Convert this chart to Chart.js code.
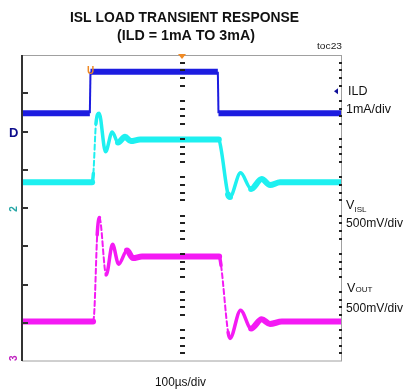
<!DOCTYPE html>
<html lang="en">
<head>
    <meta charset="UTF-8">
    <title>ISL Load Transient Response</title>
    <script src="https://cdn.jsdelivr.net/npm/chart.js"></script>
    <style>
        html, body { margin: 0; padding: 0; background: #fff; }
        #wrap { width: 403px; height: 391px; }
    </style>
</head>
<body>
    <div id="wrap"><canvas id="scope" width="403" height="391"></canvas></div>

    <script>
        // time axis in µs (100µs/div, 10 div), vertical axis in divisions (8 div)
        const xDivs = 10;
        const yDivs = 8;
        const timeSpan = 1000;

        // ILD (1mA/div)
        const ildTime  = [0, 212, 214, 612, 614, 1000];
        const ildLevel = [6.48, 6.48, 7.56, 7.56, 6.48, 6.48];

        // VISL (500mV/div)
        const vislTime  = [0, 219, 223, 231, 241, 261, 282, 300, 322, 340, 369, 615, 622, 644, 650, 683, 716, 749, 775, 806, 1000];
        const vislLevel = [4.67, 4.67, 4.9, 6.2, 6.48, 5.47, 5.99, 5.71, 5.86, 5.75, 5.79, 5.79, 5.55, 4.35, 4.29, 4.92, 4.50, 4.76, 4.60, 4.67, 4.67];

        // VOUT (500mV/div)
        const voutTime  = [0, 222, 226, 235, 242, 263, 283, 302, 328, 347, 375, 616, 622, 644, 650, 683, 716, 749, 775, 812, 1000];
        const voutLevel = [1.03, 1.03, 1.3, 3.3, 3.75, 2.25, 3.05, 2.53, 2.89, 2.69, 2.73, 2.73, 2.5, 0.75, 0.59, 1.33, 0.85, 1.09, 0.97, 1.03, 1.03];

        const toPoints = (t, v) => t.map((x, i) => ({ x: x, y: v[i] }));

        // slope of a segment in screen pixels
        const slope = ctx => Math.abs(ctx.p1.y - ctx.p0.y) / Math.max(0.01, Math.abs(ctx.p1.x - ctx.p0.x));

        function drawText(ctx, str, x, y, font, color, fitWidth) {
            ctx.font = font;
            ctx.fillStyle = color;
            ctx.textBaseline = 'alphabetic';
            ctx.textAlign = 'left';
            if (fitWidth) {
                const w = ctx.measureText(str).width;
                ctx.save();
                ctx.translate(x, y);
                ctx.scale(fitWidth / w, 1);
                ctx.fillText(str, 0, 0);
                ctx.restore();
            } else {
                ctx.fillText(str, x, y);
            }
        }

        const scopeFrame = {
            id: 'scopeFrame',
            afterDatasetsDraw(chart) {
                const { ctx, chartArea: a, scales: { x, y } } = chart;
                ctx.save();

                // outer frame
                ctx.strokeStyle = '#a0a0a0';
                ctx.lineWidth = 1;
                ctx.strokeRect(a.left + 0.5, a.top + 0.5, a.right - a.left - 1, a.bottom - a.top - 0.5);

                // left axis with major ticks
                ctx.strokeStyle = '#333';
                ctx.lineWidth = 2;
                ctx.beginPath();
                ctx.moveTo(a.left, a.top);
                ctx.lineTo(a.left, a.bottom);
                for (let i = 1; i < yDivs; i++) {
                    const py = Math.round(y.getPixelForValue(i));
                    ctx.moveTo(a.left, py);
                    ctx.lineTo(a.left + 6, py);
                }
                ctx.stroke();

                // minor dashes on the centre line and the right edge
                const cx = Math.round(x.getPixelForValue(timeSpan / 2));
                ctx.fillStyle = '#222';
                for (let i = 0; i < yDivs; i++) {
                    for (let k = 1; k < 5; k++) {
                        const py = Math.round(y.getPixelForValue(i + k / 5));
                        ctx.fillRect(cx - 2, py - 1, 5, 2);
                        ctx.fillRect(a.right - 3, py - 1, 3, 2);
                    }
                }
                ctx.restore();
            },
            afterDraw(chart) {
                const { ctx, chartArea: a, scales: { x, y } } = chart;
                ctx.save();
                const f = 'Liberation Sans, Arial, sans-serif';

                drawText(ctx, 'ISL LOAD TRANSIENT RESPONSE', 70, 21.5, 'bold 14px ' + f, '#111', 229);
                drawText(ctx, '(ILD = 1mA TO 3mA)', 117, 39.5, 'bold 14px ' + f, '#111', 138);
                drawText(ctx, 'toc23', 317, 49, '9.5px ' + f, '#222', 25);

                drawText(ctx, 'ILD', 348, 95, '12.5px ' + f, '#111');
                drawText(ctx, '1mA/div', 346, 112.5, '12.5px ' + f, '#111', 45);
                drawText(ctx, 'V', 346, 208.5, '12.5px ' + f, '#111');
                drawText(ctx, 'ISL', 354.5, 211.5, '8px ' + f, '#111');
                drawText(ctx, '500mV/div', 346, 226.5, '12px ' + f, '#111', 57);
                drawText(ctx, 'V', 347, 291.5, '12.5px ' + f, '#111');
                drawText(ctx, 'OUT', 355.5, 292, '8px ' + f, '#111');
                drawText(ctx, '500mV/div', 346, 311.5, '12px ' + f, '#111', 57);
                drawText(ctx, '100\u00b5s/div', 155, 386, '12px ' + f, '#111', 51);

                // trigger markers
                const cx = x.getPixelForValue(timeSpan / 2);
                ctx.fillStyle = '#f08a24';
                ctx.beginPath();
                ctx.moveTo(cx - 4, a.top - 1);
                ctx.lineTo(cx + 4, a.top - 1);
                ctx.lineTo(cx, a.top + 4);
                ctx.closePath();
                ctx.fill();
                drawText(ctx, 'U', x.getPixelForValue(203), y.getPixelForValue(7.5), 'bold 10px ' + f, '#f08a24');

                // channel ground markers
                drawText(ctx, 'D', 9, y.getPixelForValue(6) + 5, 'bold 13px ' + f, '#0c0c8c');
                ctx.fillStyle = '#10109a';
                const my = y.getPixelForValue(7.05);
                ctx.beginPath();
                ctx.moveTo(a.right - 8, my);
                ctx.lineTo(a.right - 4, my - 3);
                ctx.lineTo(a.right - 4, my + 3);
                ctx.closePath();
                ctx.fill();

                ctx.save();
                ctx.translate(17, y.getPixelForValue(4.03) + 5);
                ctx.rotate(-Math.PI / 2);
                drawText(ctx, '2', 0, 0, 'bold 10px ' + f, '#26a6a6');
                ctx.restore();
                ctx.save();
                ctx.translate(17, a.bottom);
                ctx.rotate(-Math.PI / 2);
                drawText(ctx, '3', 0, 0, 'bold 10px ' + f, '#c020c0');
                ctx.restore();

                ctx.restore();
            }
        };

        // fast edges are thin and broken, the ringing is medium, the settled trace is a thick noisy band
        const traceSegment = {
            borderWidth: ctx => {
                const s = slope(ctx);
                return s > 8 ? 2 : (s > 1.5 ? 3.5 : 6);
            },
            borderDash: ctx => slope(ctx) > 8 ? [5, 3] : []
        };

        new Chart(document.getElementById('scope'), {
            type: 'line',
            data: {
                datasets: [
                    {
                        label: 'ILD',
                        data: toPoints(ildTime, ildLevel),
                        borderColor: '#1c1ce0',
                        borderWidth: 6,
                        tension: 0,
                        segment: { borderWidth: ctx => slope(ctx) > 8 ? 2 : 6 }
                    },
                    {
                        label: 'VISL',
                        data: toPoints(vislTime, vislLevel),
                        borderColor: '#1ef0f0',
                        borderWidth: 6,
                        borderCapStyle: 'round',
                        borderJoinStyle: 'round',
                        cubicInterpolationMode: 'monotone',
                        segment: traceSegment
                    },
                    {
                        label: 'VOUT',
                        data: toPoints(voutTime, voutLevel),
                        borderColor: '#f41af4',
                        borderWidth: 6,
                        borderCapStyle: 'round',
                        borderJoinStyle: 'round',
                        cubicInterpolationMode: 'monotone',
                        segment: traceSegment
                    }
                ]
            },
            options: {
                responsive: false,
                animation: false,
                devicePixelRatio: 1,
                layout: { padding: { left: 22, top: 55, right: 61, bottom: 30 } },
                elements: { point: { radius: 0 } },
                scales: {
                    x: { type: 'linear', min: 0, max: timeSpan, display: false },
                    y: { type: 'linear', min: 0, max: yDivs, display: false }
                },
                plugins: {
                    legend: { display: false },
                    tooltip: { enabled: false },
                    title: { display: false }
                }
            },
            plugins: [scopeFrame]
        });
    </script>
</body>
</html>
